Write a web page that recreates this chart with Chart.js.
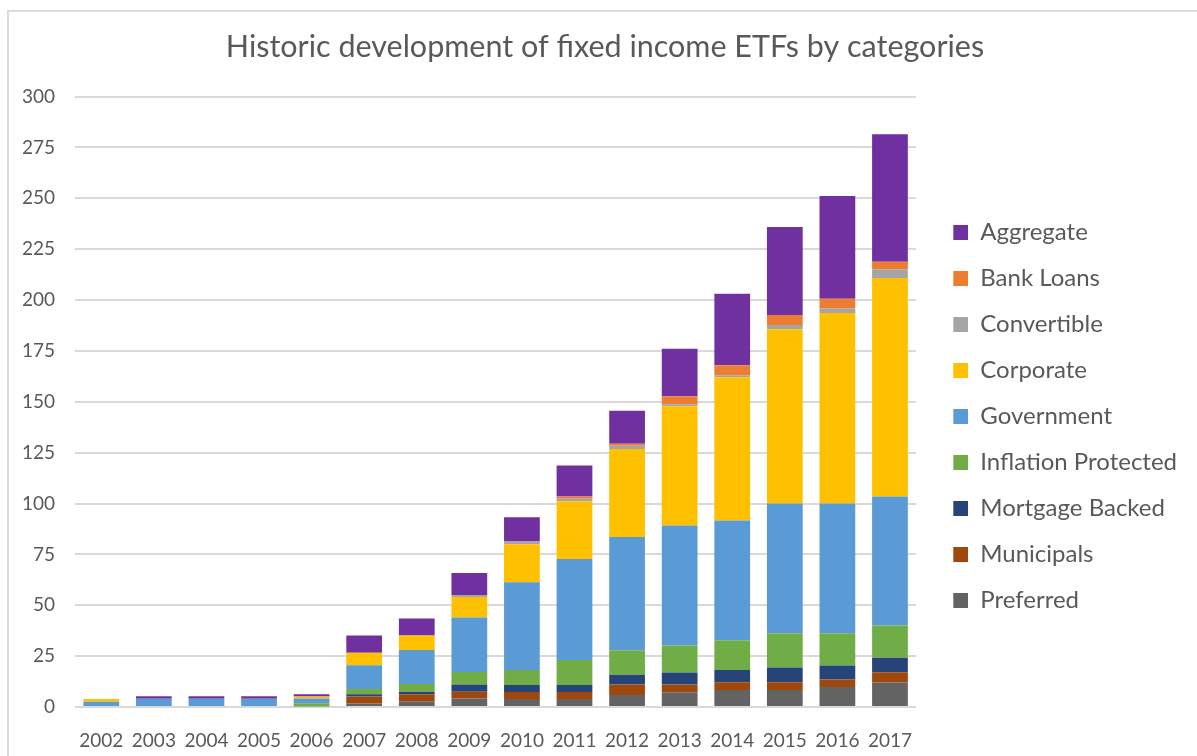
<!DOCTYPE html>
<html>
<head>
<meta charset="utf-8">
<script src="https://cdn.jsdelivr.net/npm/chart.js@4/dist/chart.umd.min.js"></script>
<style>
  html, body { margin: 0; padding: 0; background: #ffffff; overflow: hidden; }
  #frame { position: absolute; left: 7px; top: 10px; width: 1200px; height: 760px; border: 2px solid #dcdcdc; box-sizing: border-box; }
  #wrap { position: absolute; left: 0; top: 0; width: 1197px; height: 756px; }
</style>
</head>
<body>
<div id="frame"></div>
<div id="wrap"><canvas id="c"></canvas></div>
<script>
const years = ['2002','2003','2004','2005','2006','2007','2008','2009','2010','2011','2012','2013','2014','2015','2016','2017'];
const yTicks = [0, 25, 50, 75, 100, 125, 150, 175, 200, 225, 250, 275, 300];

const preferred  = [0, 0, 0, 0, 0.4, 1.7, 2.8, 4.2, 3.9, 3.9, 5.9, 7.3, 8.4, 8.4, 9.8, 12.0];
const municipals = [0, 0, 0, 0, 0, 3.5, 3.5, 3.3, 3.5, 3.5, 5.1, 3.7, 3.8, 3.8, 3.7, 5.1];
const mortgage   = [0, 0, 0, 0, 0, 1.1, 1.2, 3.5, 3.4, 3.4, 4.9, 5.9, 6.0, 7.2, 6.9, 7.1];
const inflation  = [0, 0, 0, 0, 1.4, 2.5, 3.8, 6.2, 7.4, 12.3, 12.0, 13.3, 14.6, 16.9, 15.9, 15.8];
const government = [2.6, 4.0, 4.0, 4.0, 2.4, 11.7, 16.7, 26.8, 43.1, 49.7, 55.7, 59.0, 58.8, 63.7, 63.7, 63.4];
const corporate  = [1.3, 0, 0, 0, 1.0, 6.2, 7.2, 10.1, 18.7, 28.3, 43.2, 58.6, 70.5, 85.6, 93.6, 107.4];
const convertible= [0, 0, 0, 0, 0, 0, 0, 1.0, 1.3, 1.3, 1.6, 1.0, 1.0, 2.1, 2.3, 4.4];
const bankLoans  = [0, 0, 0, 0, 0, 0, 0, 0, 0, 1.0, 1.0, 3.9, 4.9, 4.9, 4.7, 3.6];
const aggregate  = [0, 1.3, 1.3, 1.3, 1.1, 8.5, 8.3, 10.8, 12.0, 15.3, 16.2, 23.4, 35.1, 43.3, 50.5, 62.7];

const seriesNames  = ['Preferred','Municipals','Mortgage Backed','Inflation Protected','Government','Corporate','Convertible','Bank Loans','Aggregate'];
const seriesValues = [preferred, municipals, mortgage, inflation, government, corporate, convertible, bankLoans, aggregate];
const seriesColors = ['#636363','#9E480E','#264478','#70AD47','#5B9BD5','#FFC000','#A5A5A5','#ED7D31','#7030A0'];

const FONT = 'Lato, "Open Sans", sans-serif';
const TXT = '#595959';

// legend swatch: a 15x15 square sitting at the right end of a wider transparent canvas
const SWATCH_W = 30, SWATCH = 15;
function makeSwatch(color) {
  const cv = document.createElement('canvas');
  cv.width = SWATCH_W; cv.height = SWATCH;
  const g = cv.getContext('2d');
  g.fillStyle = color;
  g.fillRect(SWATCH_W - SWATCH, 0, SWATCH, SWATCH);
  return cv;
}

const datasets = seriesNames.map((n, i) => ({
  label: n,
  data: seriesValues[i],
  backgroundColor: seriesColors[i],
  borderWidth: 0,
  categoryPercentage: 1.0,
  barPercentage: 0.68
}));

new Chart(document.getElementById('c'), {
  type: 'bar',
  data: { labels: years, datasets: datasets },
  options: {
    responsive: true,
    maintainAspectRatio: false,
    animation: false,
    layout: { padding: { left: 23, right: 10, top: 0, bottom: 0 } },
    plugins: {
      title: {
        display: true,
        text: 'Historic development of fixed income ETFs by categories',
        color: TXT,
        font: { family: FONT, size: 30.5, weight: 'normal' },
        padding: { top: 29, bottom: 31 }
      },
      legend: {
        position: 'right',
        align: 'start',
        reverse: true,
        title: {
          display: true,
          text: ' ',
          color: 'rgba(0,0,0,0)',
          font: { family: FONT, size: 10 },
          padding: { top: 186, bottom: 0 }
        },
        labels: {
          color: TXT,
          font: { family: FONT, size: 24 },
          usePointStyle: true,
          pointStyleWidth: SWATCH_W,
          boxWidth: SWATCH_W,
          boxHeight: SWATCH,
          padding: 22,
          generateLabels: (chart) => {
            const items = Chart.defaults.plugins.legend.labels.generateLabels(chart);
            items.forEach(it => { it.pointStyle = makeSwatch(seriesColors[it.datasetIndex]); });
            return items;
          }
        }
      },
      tooltip: { enabled: false }
    },
    scales: {
      x: {
        stacked: true,
        grid: { display: false, drawTicks: false },
        border: { display: false },
        ticks: { color: TXT, font: { family: FONT, size: 19 }, padding: 22 },
        afterFit: (s) => { s.height = 49; }
      },
      y: {
        stacked: true,
        min: 0,
        max: 300,
        afterBuildTicks: (scale) => { scale.ticks = yTicks.map(v => ({ value: v })); },
        grid: { color: '#d9d9d9', lineWidth: 2, drawTicks: false },
        border: { display: false },
        ticks: { color: TXT, font: { family: FONT, size: 19 }, padding: 20 },
        afterFit: (s) => { s.width = 52; }
      }
    }
  }
});
</script>
</body>
</html>
